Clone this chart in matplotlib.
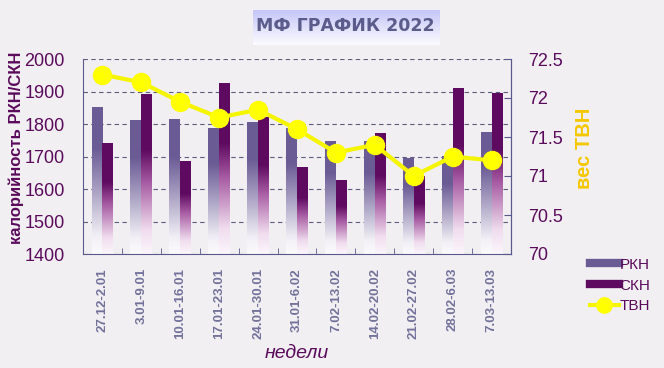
import numpy as np
import matplotlib
matplotlib.use('Agg')
import matplotlib.pyplot as plt
from matplotlib.colors import LinearSegmentedColormap
from matplotlib.lines import Line2D
from matplotlib.ticker import FuncFormatter

plt.rcParams['font.family'] = ['Liberation Sans', 'DejaVu Sans']

# данные
недели = ['27.12-2.01', '3.01-9.01', '10.01-16.01', '17.01-23.01', '24.01-30.01',
          '31.01-6.02', '7.02-13.02', '14.02-20.02', '21.02-27.02', '28.02-6.03', '7.03-13.03']
ркн = [1850, 1810, 1815, 1785, 1805, 1785, 1745, 1745, 1695, 1700, 1775]
скн = [1740, 1890, 1685, 1925, 1820, 1665, 1625, 1770, 1640, 1910, 1895]
твн = [72.3, 72.2, 71.95, 71.75, 71.85, 71.6, 71.3, 71.4, 71.0, 71.25, 71.2]

bg = '#f2eff3'
axis_col = '#5a5a8a'
lab_col = '#5a0a5a'
rkn_col = '#6b5b95'
skn_col = '#5e0a60'

cmap_rkn = LinearSegmentedColormap.from_list('rkn', [(0, '#fbfafd'), (0.12, '#f2f0f6'),
                                                     (0.5, '#9a90b8'), (0.72, rkn_col), (1, rkn_col)])
cmap_skn = LinearSegmentedColormap.from_list('skn', [(0, '#fcf6fc'), (0.15, '#f0dcee'),
                                                     (0.45, '#a65aa2'), (0.65, skn_col), (1, skn_col)])

fig = plt.figure(figsize=(6.64, 3.68), dpi=100, facecolor=bg)
ax = fig.add_axes([83/664, 1-254/368, 428/664, 195/368], facecolor=bg)

x = np.arange(len(недели))
w = 0.28
bars1 = ax.bar(x - w/2, [v - 1400 for v in ркн], w, bottom=1400, facecolor='none', edgecolor='none', zorder=2)
bars2 = ax.bar(x + w/2, [v - 1400 for v in скн], w, bottom=1400, facecolor='none', edgecolor='none', zorder=2)

# градиентная заливка столбиков
grad = np.linspace(0, 1, 256).reshape(-1, 1)
for bars, cm in [(bars1, cmap_rkn), (bars2, cmap_skn)]:
    for b in bars:
        x0 = b.get_x()
        ax.imshow(grad, extent=[x0, x0 + b.get_width(), b.get_y(), b.get_y() + b.get_height()],
                  origin='lower', aspect='auto', cmap=cm, zorder=2, interpolation='bilinear')

ax.set_xlim(-0.5, len(недели) - 0.5)
ax.set_ylim(1400, 2000)
ax.set_yticks(range(1400, 2001, 100))
ax.yaxis.grid(True, linestyle=(0, (4, 3)), color='#5c5c7c', linewidth=0.8)
ax.set_axisbelow(True)

ax.set_xticks(x)
ax.set_xticklabels(недели, rotation=90, fontsize=9.5, fontweight='bold', color='#72729a')
ax.set_xticks(np.arange(-0.5, len(недели)), minor=True)
ax.tick_params(axis='x', which='major', length=0, pad=10)
ax.tick_params(axis='x', which='minor', direction='in', length=4, color=axis_col)
ax.tick_params(axis='y', direction='in', length=0, pad=13, labelsize=13, labelcolor=lab_col)

for s in ['left', 'bottom', 'right']:
    ax.spines[s].set_color(axis_col)
ax.spines['top'].set_visible(False)

ax2 = ax.twinx()
ax2.plot(x, твн, color='#f5f500', linewidth=3, marker='o', markersize=13,
         markerfacecolor='#ffff00', markeredgecolor='#ffff00', zorder=5)
ax2.set_ylim(70, 72.5)
ax2.set_yticks(np.arange(70, 72.51, 0.5))
ax2.yaxis.set_major_formatter(FuncFormatter(lambda v, p: '%g' % v))
ax2.tick_params(axis='y', direction='in', length=5, color=axis_col, pad=12, labelsize=13, labelcolor=lab_col)
ax2.spines['right'].set_color(axis_col)
ax2.spines['left'].set_visible(False)
ax2.spines['top'].set_visible(False)
ax2.spines['bottom'].set_visible(False)

fig.text(16/664, 1-148/368, 'калорийность РКН/СКН', rotation=90, ha='center', va='center',
         fontsize=12, fontweight='bold', color=lab_col)
fig.text(585/664, 1-148/368, 'вес ТВН', rotation=90, ha='center', va='center',
         fontsize=14.5, fontweight='bold', color='#f5c800')
fig.text(297/664, 1-353/368, 'недели', ha='center', va='center',
         fontsize=14, fontstyle='italic', color=lab_col)

# заголовок с градиентной плашкой
fig.text(345/664, 1-26/368, 'МФ ГРАФИК 2022', ha='center', va='center', fontsize=12.5,
         fontweight='bold', color='#5c5c8c', family='DejaVu Sans')
tax = fig.add_axes([253/664, 1-45/368, 187/664, 35/368], zorder=-1)
tax.imshow(np.linspace(0, 1, 64).reshape(-1, 1), aspect='auto', origin='lower',
           cmap=LinearSegmentedColormap.from_list('t', ['#fbfbff', '#c6c6f8']), extent=[0, 1, 0, 1])
tax.axis('off')

handles = [Line2D([], [], color=rkn_col, linewidth=6),
           Line2D([], [], color=skn_col, linewidth=6),
           Line2D([], [], color='#f5f500', linewidth=3, marker='o', markersize=11,
                  markerfacecolor='#ffff00', markeredgecolor='#ffff00')]
fig.legend(handles, ['РКН', 'СКН', 'ТВН'], loc='upper left', bbox_to_anchor=(576/664, 1-244/368),
           frameon=False, fontsize=11, labelcolor=lab_col, handlelength=1.9, handletextpad=0.05,
           labelspacing=0.45)

fig.savefig('out.png', dpi=100, facecolor=bg)
